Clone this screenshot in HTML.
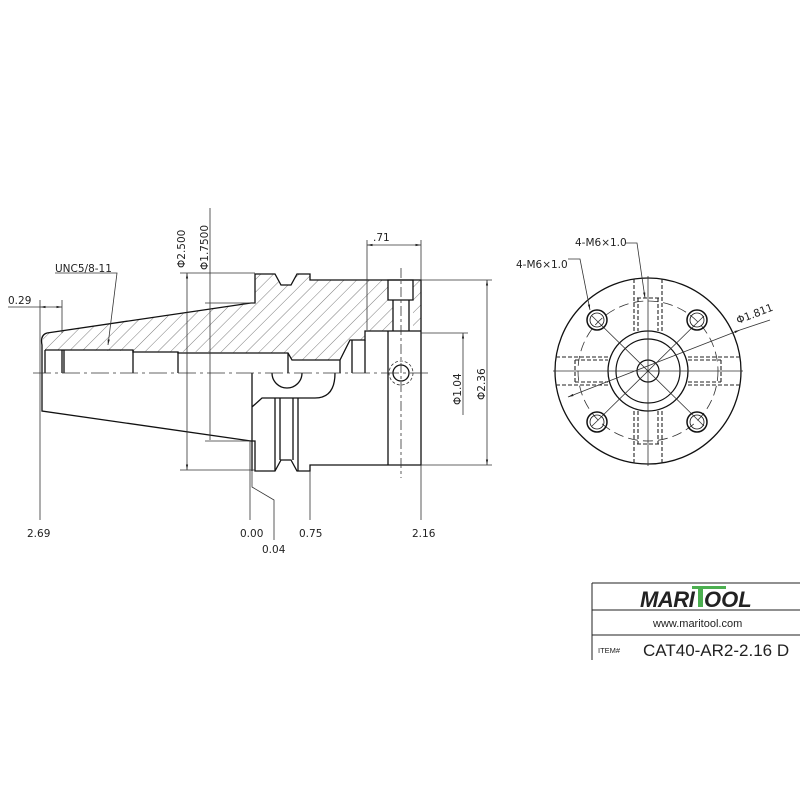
<!DOCTYPE html>
<html><head><meta charset="utf-8"><style>body{margin:0;background:#fff}svg{display:block}text{font-family:"DejaVu Sans","Liberation Sans",sans-serif;fill:#222}</style></head><body>
<svg width="800" height="800" viewBox="0 0 800 800" xmlns="http://www.w3.org/2000/svg">
<defs>
<pattern id="h" patternUnits="userSpaceOnUse" width="9" height="9" patternTransform="rotate(45)"><line x1="0" y1="0" x2="0" y2="9" stroke="#444" stroke-width="0.7"/></pattern>
<clipPath id="top"><polygon points="42,334 255,303 255,274 275,274 281,285 291,285 297,274 310,274 310,280 421,280 421,331 413,331 413,280 388,280 388,300 393,300 393,331 365,331 365,340 350,340 340,360 292,360 288,353 133,351 45,350"/></clipPath>
<marker id="a" viewBox="0 0 10 10" refX="10" refY="5" markerWidth="7" markerHeight="7" orient="auto-start-reverse"><path d="M0,3 L10,5 L0,7 Z" fill="#222"/></marker>
</defs>
<rect x="0" y="0" width="800" height="800" fill="url(#h)" clip-path="url(#top)"/>
<g fill="none" stroke="#111" stroke-width="1.3">
<path d="M47,333 L251,303 L255,303 L255,274 L275,274 L281,285 L291,285 L297,274 L310,274 L310,280 L421,280 L421,465 L310,465 L310,471 L297,471 L291,460 L281,460 L275,471 L255,471 L255,441 L251,441 L42,411 L42,345 Q40,335 47,333"/>
<path d="M45,350 L133,350 L133,352 L178,352 L178,353 L288,353 L292,360 L340,360 L350,340 L365,340 L365,331 L421,331"/>
<path d="M45,350 V373 M62,350 V373 M64,350 V373 M133,350 V373 M178,352 V373 M288,353 V373 M340,360 V373 M352,340 V373 M365,340 V373 M388,331 V465"/>
<path d="M388,280 H413 V300 H388 Z M393,300 V331 M409,300 V331"/>
<path d="M252,373 V471 M252,407 L262,398 H315 Q335,398 335,373 M272,373 A15,15 0 0 0 302,373"/>
<path d="M275,398 V471 M280,398 V460 M293,398 V460 M298,398 V471"/>
<circle cx="401" cy="373" r="8"/>
</g>
<circle cx="401" cy="373" r="12" fill="none" stroke="#333" stroke-width="0.8" stroke-dasharray="3,2"/>
<g stroke="#333" stroke-width="0.8" fill="none">
<path d="M33,373 H430" stroke-dasharray="18,4,3,4"/>
<path d="M401,268 V478" stroke-dasharray="10,3,3,3"/>
<path d="M180,273 H255 M180,470 H255"/>
<path d="M187,273 V470" marker-start="url(#a)" marker-end="url(#a)"/>
<path d="M210,208 V440 M205,303 H255 M205,441 H250"/>
<path d="M367,240 V330 M421,240 V280"/>
<path d="M367,245 H421" marker-start="url(#a)" marker-end="url(#a)"/>
<path d="M421,280 H492 M421,465 H492"/>
<path d="M487,280 V465" marker-start="url(#a)" marker-end="url(#a)"/>
<path d="M421,333 H468"/>
<path d="M463,333 V415" marker-start="url(#a)"/>
<path d="M8,307 H40 M40,300 V520 M62,300 V333"/>
<path d="M40,307 H62" marker-start="url(#a)" marker-end="url(#a)"/>
<path d="M55,273 H117 L108,345" marker-end="url(#a)"/>
<path d="M250,441 V520 M252,471 V487 L274,500 V540 M310,471 V520 M421,465 V520"/>
<circle cx="648" cy="371" r="93" stroke="#111" stroke-width="1.3"/>
<circle cx="648" cy="371" r="70" stroke-dasharray="10,5"/>
<circle cx="648" cy="371" r="40" stroke="#111" stroke-width="1.3"/>
<circle cx="648" cy="371" r="32" stroke="#111" stroke-width="1.2"/>
<circle cx="648" cy="371" r="11" stroke="#111" stroke-width="1.2"/>
<path d="M553,371 H743 M648,276 V466 M592,316 L704,426 M704,316 L592,426"/>
<path d="M568,397 L740,330" marker-start="url(#a)" marker-end="url(#a)"/>
<path d="M740,330 L770,320"/>
<path d="M568,259 H580 L590,310" marker-end="url(#a)"/>
<path d="M625,243 H637 L645,298" marker-end="url(#a)"/>
<g stroke-dasharray="4,2" stroke="#222" stroke-width="1.1">
<path d="M634,279 V331 M662,279 V331 M637,298 H659 M638,298 V331 M658,298 V331"/>
<path d="M634,411 V463 M662,411 V463 M637,444 H659 M638,411 V444 M658,411 V444"/>
<path d="M556,357 H608 M556,385 H608 M575,360 V382 M575,360 H608 M575,382 H608"/>
<path d="M688,357 H740 M688,385 H740 M721,360 V382 M688,360 H721 M688,382 H721"/>
</g>
</g>
<g fill="none" stroke="#111" stroke-width="1.5">
<circle cx="597" cy="320" r="10"/><circle cx="697" cy="320" r="10"/><circle cx="597" cy="422" r="10"/><circle cx="697" cy="422" r="10"/>
</g>
<g fill="none" stroke="#111" stroke-width="0.8">
<circle cx="597" cy="320" r="7"/><circle cx="697" cy="320" r="7"/><circle cx="597" cy="422" r="7"/><circle cx="697" cy="422" r="7"/>
</g>
<g font-size="10.5">
<text x="55" y="272">UNC5/8-11</text>
<text x="8" y="304">0.29</text>
<text x="373" y="241">.71</text>
<text x="27" y="537">2.69</text>
<text x="240" y="537">0.00</text>
<text x="262" y="553">0.04</text>
<text x="299" y="537">0.75</text>
<text x="412" y="537">2.16</text>
<text transform="translate(185,268) rotate(-90)">Φ2.500</text>
<text transform="translate(208,270) rotate(-90)">Φ1.7500</text>
<text transform="translate(485,400) rotate(-90)">Φ2.36</text>
<text transform="translate(461,405) rotate(-90)">Φ1.04</text>
<text x="516" y="268">4-M6×1.0</text>
<text x="575" y="246">4-M6×1.0</text>
<text transform="translate(738,324) rotate(-21)">Φ1.811</text>
</g>
<g stroke="#222" stroke-width="1" fill="none">
<path d="M592,583 H800 M592,583 V660 M592,610 H800 M592,635 H800"/>
</g>
<text x="640" y="607" font-size="22" font-weight="bold" font-style="italic" style="font-family:'Liberation Sans',sans-serif;letter-spacing:-0.5px" fill="#111">MARI</text>
<rect x="692" y="586" width="34" height="3" fill="#4caf50"/>
<rect x="698" y="586" width="5" height="21" fill="#4caf50"/>
<text x="704" y="607" font-size="22" font-weight="bold" font-style="italic" style="font-family:'Liberation Sans',sans-serif" fill="#111">OOL</text>
<text x="653" y="627" font-size="11" style="font-family:'Liberation Sans',sans-serif">www.maritool.com</text>
<text x="598" y="653" font-size="7.5" style="font-family:'Liberation Sans',sans-serif">ITEM#</text>
<text x="643" y="656" font-size="17" style="font-family:'Liberation Sans',sans-serif">CAT40-AR2-2.16 D</text>
</svg>
</body></html>
